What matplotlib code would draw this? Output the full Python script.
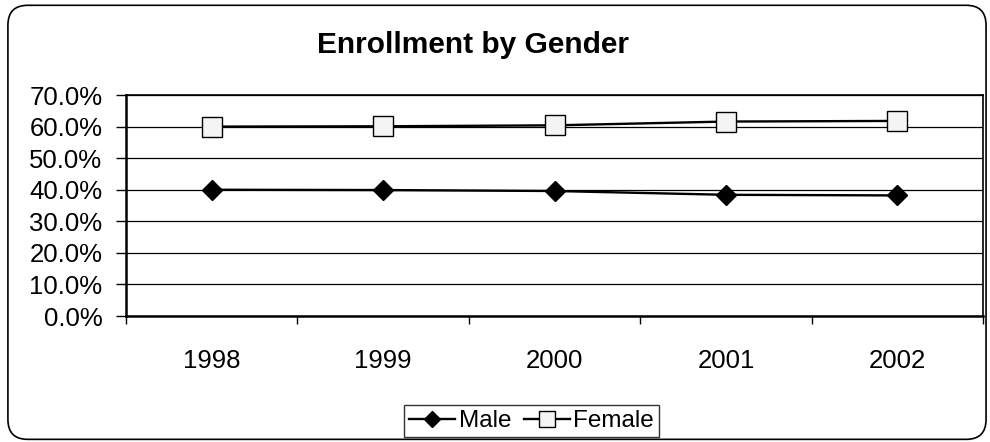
import numpy as np
import matplotlib.pyplot as plt
from matplotlib.patches import FancyBboxPatch
from matplotlib.ticker import FuncFormatter

plt.rcParams['font.family'] = ['Liberation Sans', 'DejaVu Sans']

# Data
years = ['1998', '1999', '2000', '2001', '2002']
male = [40.0, 39.9, 39.6, 38.4, 38.2]
female = [60.0, 60.1, 60.4, 61.6, 61.8]

fig = plt.figure(figsize=(9.9, 4.42), dpi=100)
ax = fig.add_axes([0.1273, 0.285, 0.8657, 0.5])

x = np.arange(len(years))
ax.plot(x, male, color='black', lw=1.7, marker='D', markersize=10.5,
        markerfacecolor='black', markeredgecolor='black', label='Male', zorder=5)
ax.plot(x, female, color='black', lw=1.7, marker='s', markersize=14,
        markerfacecolor='#f4f4f4', markeredgecolor='black', markeredgewidth=1.0,
        label='Female', zorder=5)

# Axes formatting
ax.set_xlim(-0.5, len(years) - 0.5)
ax.set_ylim(0, 70)
ax.set_yticks(np.arange(0, 71, 10))
ax.yaxis.set_major_formatter(FuncFormatter(lambda v, p: '%.1f%%' % v))
ax.set_xticks(x)
ax.set_xticklabels(years)
ax.set_xticks(np.arange(-0.5, len(years)), minor=True)
ax.tick_params(axis='x', which='major', length=0, pad=24, labelsize=18.5)
ax.tick_params(axis='x', which='minor', length=6, width=1, direction='out')
ax.tick_params(axis='y', length=7, width=1, direction='out', pad=10, labelsize=18.5)

ax.yaxis.grid(True, color='black', lw=0.9)
ax.set_axisbelow(True)
for side in ['top', 'right']:
    ax.spines[side].set_linewidth(1.2)
for side in ['left', 'bottom']:
    ax.spines[side].set_linewidth(1.8)

# Title
fig.text(0.478, 0.898, 'Enrollment by Gender', ha='center', va='center',
         fontsize=21.5, fontweight='bold')

# Legend
lgd = fig.legend(loc='center', bbox_to_anchor=(0.537, 0.0475), ncol=2,
                 fontsize=17.5, frameon=True, fancybox=False, handlelength=1.9,
                 handletextpad=0.15, columnspacing=0.5, borderpad=0.2,
                 markerscale=0.8)
lgd.get_frame().set_edgecolor('black')
lgd.get_frame().set_linewidth(1.0)

# Outer chart border
border = FancyBboxPatch((0.008, 0.006), 0.988, 0.982, transform=fig.transFigure,
                        boxstyle='round,pad=0,rounding_size=0.02', fill=False,
                        edgecolor='black', lw=1.2, mutation_aspect=990 / 442)
fig.patches.append(border)

fig.savefig('out.png', dpi=100)
